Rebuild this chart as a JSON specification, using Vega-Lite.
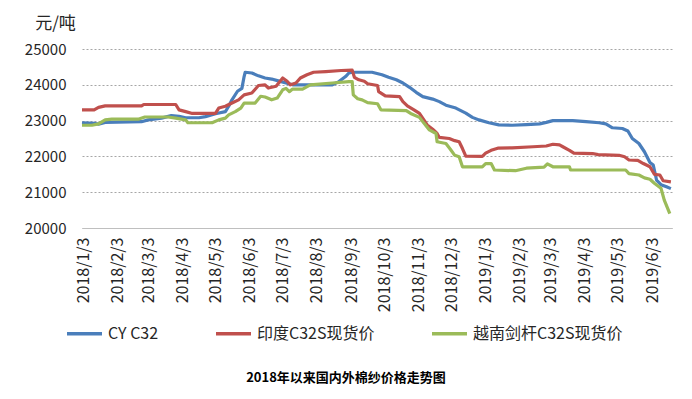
{
  "$schema": "https://vega.github.io/schema/vega-lite/v6.json",
  "autosize": {"type": "none"},
  "width": 590,
  "height": 179,
  "padding": {"left": 82, "top": 49, "right": 20, "bottom": 171},
  "background": "white",
  "config": {
    "font": "Noto Sans CJK SC",
    "view": {"stroke": null}
  },
  "title": {
    "text": "2018年以来国内外棉纱价格走势图",
    "orient": "bottom",
    "anchor": "middle",
    "dx": -31,
    "offset": 30,
    "fontSize": 13,
    "fontWeight": "bold",
    "color": "#000000",
    "font": "Noto Sans CJK SC"
  },
  "datasets": {
    "cy": [
      {"d":"2018-01-02","v":22940},{"d":"2018-01-14","v":22920},{"d":"2018-01-17","v":22900},{"d":"2018-01-23","v":22950},
      {"d":"2018-02-25","v":22970},{"d":"2018-03-03","v":23020},{"d":"2018-03-15","v":23070},{"d":"2018-03-24","v":23140},
      {"d":"2018-03-31","v":23120},{"d":"2018-04-06","v":23080},{"d":"2018-04-18","v":23080},{"d":"2018-04-24","v":23110},
      {"d":"2018-05-03","v":23190},{"d":"2018-05-12","v":23250},{"d":"2018-05-15","v":23400},{"d":"2018-05-18","v":23580},
      {"d":"2018-05-23","v":23820},{"d":"2018-05-27","v":23900},{"d":"2018-05-29","v":24230},{"d":"2018-05-30","v":24350},
      {"d":"2018-06-05","v":24330},{"d":"2018-06-11","v":24250},{"d":"2018-06-17","v":24190},{"d":"2018-06-23","v":24160},
      {"d":"2018-06-29","v":24110},{"d":"2018-07-06","v":24050},{"d":"2018-07-12","v":24000},{"d":"2018-08-17","v":24000},
      {"d":"2018-08-23","v":24090},{"d":"2018-08-29","v":24230},{"d":"2018-09-01","v":24330},{"d":"2018-09-04","v":24350},
      {"d":"2018-09-22","v":24350},{"d":"2018-10-01","v":24280},{"d":"2018-10-07","v":24210},{"d":"2018-10-14","v":24140},
      {"d":"2018-10-20","v":24050},{"d":"2018-10-26","v":23930},{"d":"2018-11-01","v":23790},{"d":"2018-11-07","v":23670},
      {"d":"2018-11-16","v":23600},{"d":"2018-11-22","v":23530},{"d":"2018-11-28","v":23430},{"d":"2018-12-07","v":23350},
      {"d":"2018-12-16","v":23210},{"d":"2018-12-22","v":23090},{"d":"2018-12-28","v":23020},{"d":"2019-01-06","v":22940},
      {"d":"2019-01-15","v":22880},{"d":"2019-01-27","v":22870},{"d":"2019-02-09","v":22890},{"d":"2019-02-21","v":22910},
      {"d":"2019-02-27","v":22950},{"d":"2019-03-05","v":23000},{"d":"2019-03-23","v":23000},{"d":"2019-04-04","v":22970},
      {"d":"2019-04-16","v":22940},{"d":"2019-04-22","v":22910},{"d":"2019-04-28","v":22800},{"d":"2019-05-07","v":22780},
      {"d":"2019-05-12","v":22710},{"d":"2019-05-16","v":22500},{"d":"2019-05-22","v":22360},{"d":"2019-05-27","v":22130},
      {"d":"2019-06-01","v":21830},{"d":"2019-06-04","v":21760},{"d":"2019-06-07","v":21340},{"d":"2019-06-11","v":21210},
      {"d":"2019-06-16","v":21150},{"d":"2019-06-20","v":21100}
    ],
    "india": [
      {"d":"2018-01-02","v":23300},{"d":"2018-01-13","v":23300},{"d":"2018-01-17","v":23370},{"d":"2018-01-23","v":23410},
      {"d":"2018-02-25","v":23410},{"d":"2018-02-27","v":23450},{"d":"2018-03-28","v":23450},{"d":"2018-03-31","v":23300},
      {"d":"2018-04-06","v":23250},{"d":"2018-04-12","v":23200},{"d":"2018-05-03","v":23200},{"d":"2018-05-06","v":23350},
      {"d":"2018-05-12","v":23400},{"d":"2018-05-18","v":23490},{"d":"2018-05-24","v":23580},{"d":"2018-05-29","v":23720},
      {"d":"2018-06-05","v":23770},{"d":"2018-06-11","v":23980},{"d":"2018-06-17","v":24000},{"d":"2018-06-20","v":23910},
      {"d":"2018-06-27","v":23960},{"d":"2018-07-03","v":24190},{"d":"2018-07-07","v":24100},{"d":"2018-07-10","v":24000},
      {"d":"2018-07-15","v":24050},{"d":"2018-07-19","v":24190},{"d":"2018-07-25","v":24280},{"d":"2018-07-31","v":24350},
      {"d":"2018-08-11","v":24370},{"d":"2018-08-25","v":24400},{"d":"2018-09-04","v":24410},{"d":"2018-09-06","v":24210},
      {"d":"2018-09-10","v":24140},{"d":"2018-09-15","v":24100},{"d":"2018-09-18","v":24030},{"d":"2018-09-27","v":23980},
      {"d":"2018-09-28","v":23810},{"d":"2018-10-04","v":23690},{"d":"2018-10-17","v":23670},{"d":"2018-10-20","v":23530},
      {"d":"2018-10-24","v":23410},{"d":"2018-10-30","v":23300},{"d":"2018-11-04","v":23200},{"d":"2018-11-08","v":23020},
      {"d":"2018-11-11","v":22880},{"d":"2018-11-16","v":22760},{"d":"2018-11-20","v":22640},{"d":"2018-11-22","v":22530},
      {"d":"2018-12-01","v":22500},{"d":"2018-12-06","v":22440},{"d":"2018-12-10","v":22410},{"d":"2018-12-13","v":22220},
      {"d":"2018-12-16","v":22010},{"d":"2018-12-31","v":22000},{"d":"2019-01-03","v":22090},{"d":"2019-01-08","v":22170},
      {"d":"2019-01-14","v":22230},{"d":"2019-01-27","v":22240},{"d":"2019-02-15","v":22270},{"d":"2019-02-27","v":22290},
      {"d":"2019-03-05","v":22340},{"d":"2019-03-11","v":22320},{"d":"2019-03-14","v":22270},{"d":"2019-03-20","v":22170},
      {"d":"2019-03-24","v":22090},{"d":"2019-04-10","v":22080},{"d":"2019-04-15","v":22050},{"d":"2019-05-04","v":22030},
      {"d":"2019-05-09","v":21990},{"d":"2019-05-13","v":21900},{"d":"2019-05-21","v":21890},{"d":"2019-05-26","v":21800},
      {"d":"2019-06-01","v":21710},{"d":"2019-06-05","v":21500},{"d":"2019-06-10","v":21480},{"d":"2019-06-13","v":21320},
      {"d":"2019-06-20","v":21290}
    ],
    "vietnam": [
      {"d":"2018-01-02","v":22870},{"d":"2018-01-11","v":22870},{"d":"2018-01-17","v":22910},{"d":"2018-01-23","v":23020},
      {"d":"2018-01-29","v":23040},{"d":"2018-02-22","v":23040},{"d":"2018-02-28","v":23100},{"d":"2018-03-21","v":23100},
      {"d":"2018-03-28","v":23070},{"d":"2018-04-06","v":23020},{"d":"2018-04-08","v":22940},{"d":"2018-04-30","v":22940},
      {"d":"2018-05-06","v":23020},{"d":"2018-05-12","v":23070},{"d":"2018-05-15","v":23160},{"d":"2018-05-21","v":23250},
      {"d":"2018-05-26","v":23350},{"d":"2018-05-29","v":23490},{"d":"2018-06-08","v":23490},{"d":"2018-06-13","v":23680},
      {"d":"2018-06-17","v":23660},{"d":"2018-06-23","v":23580},{"d":"2018-06-28","v":23630},{"d":"2018-07-03","v":23860},
      {"d":"2018-07-06","v":23900},{"d":"2018-07-09","v":23810},{"d":"2018-07-12","v":23880},{"d":"2018-07-21","v":23880},
      {"d":"2018-07-28","v":24000},{"d":"2018-08-17","v":24050},{"d":"2018-09-01","v":24090},{"d":"2018-09-04","v":24090},
      {"d":"2018-09-05","v":23720},{"d":"2018-09-09","v":23610},{"d":"2018-09-13","v":23580},{"d":"2018-09-18","v":23500},
      {"d":"2018-09-27","v":23470},{"d":"2018-09-30","v":23300},{"d":"2018-10-23","v":23280},{"d":"2018-10-27","v":23200},
      {"d":"2018-11-04","v":23090},{"d":"2018-11-08","v":22930},{"d":"2018-11-13","v":22740},{"d":"2018-11-19","v":22640},
      {"d":"2018-11-20","v":22410},{"d":"2018-11-28","v":22360},{"d":"2018-12-02","v":22200},{"d":"2018-12-06","v":22030},
      {"d":"2018-12-10","v":21990},{"d":"2018-12-13","v":21710},{"d":"2018-12-31","v":21710},{"d":"2019-01-03","v":21800},
      {"d":"2019-01-08","v":21800},{"d":"2019-01-11","v":21620},{"d":"2019-01-30","v":21600},{"d":"2019-02-09","v":21670},
      {"d":"2019-02-25","v":21700},{"d":"2019-02-28","v":21790},{"d":"2019-03-05","v":21710},{"d":"2019-03-20","v":21710},
      {"d":"2019-03-21","v":21620},{"d":"2019-05-10","v":21620},{"d":"2019-05-13","v":21520},{"d":"2019-05-22","v":21480},
      {"d":"2019-05-27","v":21400},{"d":"2019-06-01","v":21360},{"d":"2019-06-05","v":21250},{"d":"2019-06-11","v":21110},
      {"d":"2019-06-14","v":20780},{"d":"2019-06-19","v":20400}
    ]
  },
  "layer": [
    {
      "data": {"name": "cy"},
      "transform": [{"calculate": "'CY C32'", "as": "s"}],
      "mark": {"type": "line", "strokeWidth": 3.2, "strokeJoin": "round"},
      "encoding": {
        "x": {"field": "d", "type": "temporal"},
        "y": {"field": "v", "type": "quantitative"},
        "color": {"field": "s", "type": "nominal"}
      }
    },
    {
      "data": {"name": "india"},
      "transform": [{"calculate": "'印度C32S现货价'", "as": "s"}],
      "mark": {"type": "line", "strokeWidth": 3.2, "strokeJoin": "round"},
      "encoding": {
        "x": {"field": "d", "type": "temporal"},
        "y": {"field": "v", "type": "quantitative"},
        "color": {"field": "s", "type": "nominal"}
      }
    },
    {
      "data": {"name": "vietnam"},
      "transform": [{"calculate": "'越南剑杆C32S现货价'", "as": "s"}],
      "mark": {"type": "line", "strokeWidth": 3.2, "strokeJoin": "round"},
      "encoding": {
        "x": {"field": "d", "type": "temporal"},
        "y": {"field": "v", "type": "quantitative"},
        "color": {"field": "s", "type": "nominal"}
      }
    }
  ],
  "encoding": {
    "x": {
      "field": "d",
      "type": "temporal",
      "scale": {"type": "utc", "domain": [{"year": 2018, "month": 1, "date": 2, "utc": true}, {"year": 2019, "month": 6, "date": 21, "utc": true}]},
      "axis": {
        "title": null,
        "format": "%Y/%-m/%-d",
        "labelAngle": -90,
        "labelAlign": "right",
        "labelBaseline": "middle",
        "labelFontSize": 16,
        "labelColor": "#262626",
        "labelPadding": 9,
        "ticks": false,
        "grid": false,
        "domainColor": "#bfbfbf",
        "domainWidth": 1.2,
        "labelOverlap": false,
        "labelFlush": false,
        "values": [
          {"year": 2018, "month": 1, "date": 3, "utc": true},
          {"year": 2018, "month": 2, "date": 3, "utc": true},
          {"year": 2018, "month": 3, "date": 3, "utc": true},
          {"year": 2018, "month": 4, "date": 3, "utc": true},
          {"year": 2018, "month": 5, "date": 3, "utc": true},
          {"year": 2018, "month": 6, "date": 3, "utc": true},
          {"year": 2018, "month": 7, "date": 3, "utc": true},
          {"year": 2018, "month": 8, "date": 3, "utc": true},
          {"year": 2018, "month": 9, "date": 3, "utc": true},
          {"year": 2018, "month": 10, "date": 3, "utc": true},
          {"year": 2018, "month": 11, "date": 3, "utc": true},
          {"year": 2018, "month": 12, "date": 3, "utc": true},
          {"year": 2019, "month": 1, "date": 3, "utc": true},
          {"year": 2019, "month": 2, "date": 3, "utc": true},
          {"year": 2019, "month": 3, "date": 3, "utc": true},
          {"year": 2019, "month": 4, "date": 3, "utc": true},
          {"year": 2019, "month": 5, "date": 3, "utc": true},
          {"year": 2019, "month": 6, "date": 3, "utc": true}
        ]
      }
    },
    "y": {
      "field": "v",
      "type": "quantitative",
      "scale": {"domain": [20000, 25000], "nice": false, "zero": false},
      "axis": {
        "title": "元/吨",
        "titleAngle": 0,
        "titleAlign": "center",
        "titleBaseline": "middle",
        "titleX": -27,
        "titleY": -26,
        "titleFontSize": 17,
        "titleFontWeight": "normal",
        "titleColor": "#262626",
        "values": [20000, 21000, 22000, 23000, 24000, 25000],
        "format": "d",
        "labelFontSize": 15,
        "labelColor": "#262626",
        "labelPadding": 16,
        "ticks": false,
        "domain": false,
        "grid": true,
        "gridColor": "#a6a6a6",
        "gridDash": [2, 2],
        "gridWidth": 1
      }
    },
    "color": {
      "field": "s",
      "type": "nominal",
      "scale": {
        "domain": ["CY C32", "印度C32S现货价", "越南剑杆C32S现货价"],
        "range": ["#4a7ebb", "#c0504d", "#9bbb59"]
      },
      "legend": {
        "title": null,
        "orient": "none",
        "direction": "horizontal",
        "legendX": -17,
        "legendY": 265,
        "padding": 0,
        "symbolType": "stroke",
        "symbolSize": 1225,
        "symbolStrokeWidth": 3.5,
        "labelFontSize": 16,
        "labelColor": "#262626",
        "labelOffset": 4,
        "columnPadding": 50,
        "labelLimit": 300
      }
    }
  }
}
